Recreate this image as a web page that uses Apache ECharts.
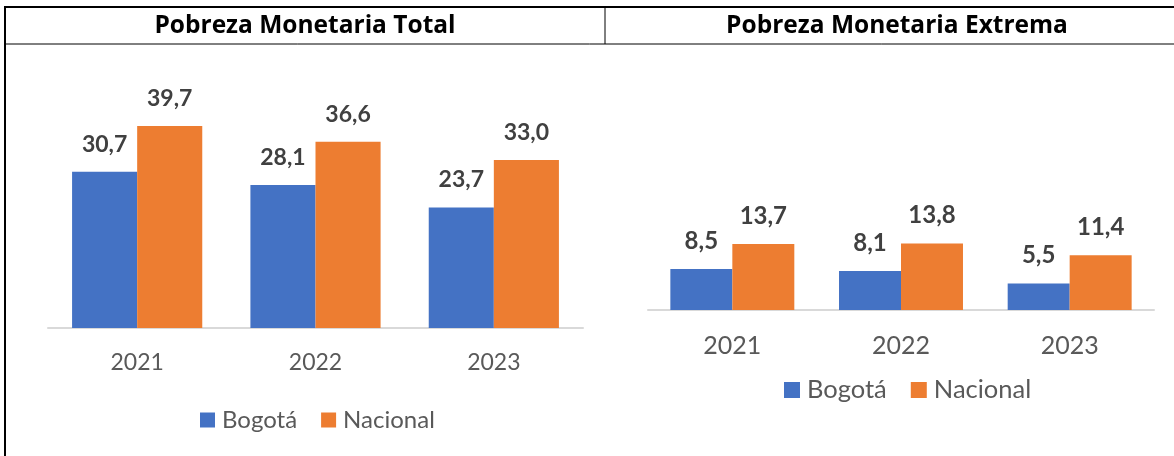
<!DOCTYPE html>
<html>
<head>
<meta charset="utf-8">
<script src="https://cdn.jsdelivr.net/npm/echarts@6/dist/echarts.min.js"></script>
<style>
  html, body { margin: 0; padding: 0; background: #fff; }
  #chart { width: 1174px; height: 456px; }
</style>
</head>
<body>
<div id="chart"></div>
<script>
// datos
const years = ['2021', '2022', '2023'];
const seriesNames = ['Bogotá', 'Nacional'];
const totalBogota = [30.7, 28.1, 23.7];
const totalNacional = [39.7, 36.6, 33.0];
const extremaBogota = [8.5, 8.1, 5.5];
const extremaNacional = [13.7, 13.8, 11.4];

const BLUE = '#4472C4';
const ORANGE = '#ED7D31';
const FONT = 'Lato';

const fmt = p => p.value.toFixed(1).replace('.', ',');

// idx 0 = total (izquierda), idx 1 = extrema (derecha)
function barSeries(name, data, idx, color) {
  return {
    name: name,
    type: 'bar',
    xAxisIndex: idx,
    yAxisIndex: idx,
    data: data,
    barGap: 0,
    barCategoryGap: idx === 0 ? '27%' : '26.5%',
    itemStyle: { color: color },
    label: {
      show: true,
      position: 'top',
      distance: 16,
      formatter: fmt,
      fontFamily: FONT,
      fontWeight: 'bold',
      fontSize: idx === 0 ? 23 : 24,
      color: '#404040'
    }
  };
}

function xAxis(idx, margin, size) {
  return {
    type: 'category',
    gridIndex: idx,
    data: years,
    axisTick: { show: false },
    axisLine: { lineStyle: { color: '#d9d9d9', width: 2 } },
    axisLabel: { margin: margin, fontFamily: FONT, fontSize: size, color: '#595959' }
  };
}

function yAxis(idx, max) {
  return { type: 'value', gridIndex: idx, min: 0, max: max, show: false, splitLine: { show: false } };
}

function legend(left, top, size, box) {
  return {
    left: left,
    top: top,
    data: seriesNames,
    icon: 'rect',
    itemWidth: box,
    itemHeight: box,
    itemGap: 24,
    padding: 0,
    textStyle: { fontFamily: FONT, fontSize: size, color: '#595959', padding: [0, 0, 0, 2] }
  };
}

const chart = echarts.init(document.getElementById('chart'));
chart.setOption({
  animation: false,
  title: [
    { text: 'Pobreza Monetaria Total', left: 305, top: 14, textAlign: 'center', padding: 0,
      textStyle: { fontFamily: 'Open Sans', fontWeight: 'bold', fontSize: 24.5, color: '#000' } },
    { text: 'Pobreza Monetaria Extrema', left: 897, top: 14, textAlign: 'center', padding: 0,
      textStyle: { fontFamily: 'Open Sans', fontWeight: 'bold', fontSize: 24.5, color: '#000' } }
  ],
  legend: [legend(200, 408, 24, 15), legend(784, 377, 25.5, 16)],
  grid: [
    { left: 48, width: 535, top: 99, bottom: 128 },
    { left: 648, width: 506, top: 233, bottom: 146 }
  ],
  xAxis: [xAxis(0, 23, 23), xAxis(1, 23, 25)],
  yAxis: [yAxis(0, 45), yAxis(1, 16)],
  series: [
    barSeries('Bogotá', totalBogota, 0, BLUE),
    barSeries('Nacional', totalNacional, 0, ORANGE),
    barSeries('Bogotá', extremaBogota, 1, BLUE),
    barSeries('Nacional', extremaNacional, 1, ORANGE)
  ],
  graphic: [
    { type: 'line', shape: { x1: 5, y1: 7, x2: 1174, y2: 7 }, style: { stroke: '#000', lineWidth: 2 } },
    { type: 'line', shape: { x1: 5, y1: 6, x2: 5, y2: 456 }, style: { stroke: '#000', lineWidth: 2 } },
    { type: 'line', shape: { x1: 5, y1: 44, x2: 1174, y2: 44 }, style: { stroke: '#000', lineWidth: 1 } },
    { type: 'line', shape: { x1: 605, y1: 7, x2: 605, y2: 44 }, style: { stroke: '#000', lineWidth: 1 } }
  ]
});
</script>
</body>
</html>
